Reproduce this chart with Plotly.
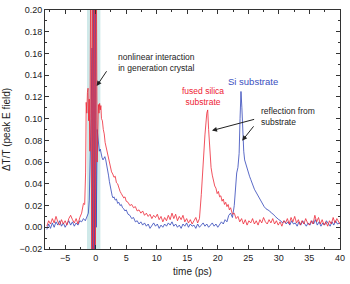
import plotly.graph_objects as go

# ---------------- data ----------------
t_red = [-8.0,-7.7,-7.4,-7.1,-6.8,-6.5,-6.2,-5.9,-5.6,-5.3,-5.0,-4.7,-4.4,-4.1,-3.8,-3.5,-3.2,-2.9,-2.6,-2.3,-2.0,
         -1.8,-1.65,-1.55,-1.45,-1.35,-1.25,-1.15,-1.05,-0.95,-0.8,-0.65,-0.5,-0.35,-0.2,-0.05,0.1,
         0.25,0.35,0.45,0.55,0.65,0.75,0.85,0.95,1.1,1.25,1.4,1.55,1.7,1.85,2.0,2.2,2.4,2.6,2.8,3.0,3.2,3.4,3.6,3.8,4.0,
         4.2,4.4,4.6,4.8,5.0,5.3,5.6,5.9,6.2,6.5,6.8,7.1,7.4,7.7,8.0,8.3,8.6,8.9,9.2,9.5,9.8,10.1,10.4,10.7,11.0,11.3,
         11.6,11.9,12.2,12.5,12.8,13.1,13.4,13.7,14.0,14.3,14.6,14.9,15.2,15.5,15.8,16.1,16.4,16.7,17.0,17.3,17.6,17.9,
         18.2,18.35,18.5,18.7,18.9,19.1,19.3,19.5,19.7,19.9,20.1,20.3,20.5,20.7,20.9,21.1,21.3,21.5,21.7,21.9,22.1,22.4,
         22.7,23.0,23.3,23.6,23.9,24.2,24.5,24.8,25.1,25.4,25.7,26.0,26.3,26.6,26.9,27.2,27.5,27.8,28.1,28.4,28.7,29.0,
         29.3,29.6,29.9,30.2,30.5,30.8,31.1,31.4,31.7,32.0,32.3,32.6,32.9,33.2,33.5,33.8,34.1,34.4,34.7,35.0,35.3,35.6,
         35.9,36.2,36.5,36.8,37.1,37.4,37.7,38.0,38.3,38.6,38.9,39.2,39.5,39.8,40.0]
v_red = [0.001,0.006,0.003,0.008,0.004,0.010,0.005,0.002,0.007,0.003,0.006,0.002,0.008,0.011,0.007,0.004,0.008,0.003,0.009,0.013,0.022,
         0.021,0.05,0.115,0.105,0.124,0.128,0.098,0.118,0.07,0.25,-0.03,0.25,-0.03,0.25,-0.03,0.25,
         0.06,0.10,0.113,0.105,0.114,0.108,0.112,0.100,0.098,0.09,0.086,0.078,0.074,0.07,0.066,0.061,0.057,0.051,0.049,0.046,0.047,0.041,0.040,0.035,0.033,
         0.031,0.029,0.027,0.028,0.024,0.023,0.020,0.021,0.018,0.019,0.015,0.016,0.013,0.015,0.011,0.013,0.010,0.012,0.008,0.011,0.009,0.012,0.007,0.010,0.005,0.009,
         0.006,0.011,0.007,0.013,0.008,0.012,0.006,0.010,0.007,0.011,0.005,0.008,0.004,0.007,0.003,0.006,0.009,0.004,0.008,0.03,0.06,0.085,
         0.105,0.108,0.09,0.065,0.055,0.048,0.042,0.038,0.036,0.031,0.033,0.028,0.029,0.024,0.026,0.021,0.023,0.019,0.021,0.016,0.018,0.012,
         0.013,0.008,0.010,0.005,0.008,0.003,0.007,0.002,0.006,0.004,0.008,0.003,0.006,0.002,0.007,0.004,0.009,0.005,0.003,0.007,0.004,0.008,
         0.003,0.006,0.002,0.005,0.001,0.006,0.004,0.008,0.003,0.009,0.005,0.010,0.004,0.007,0.002,0.006,0.003,0.008,0.004,0.002,0.006,0.003,
         0.011,0.005,0.009,0.003,0.007,0.002,0.005,0.001,0.006,0.003,0.009,0.004,0.008,0.005,0.003]

t_blue = [-8.0,-7.7,-7.4,-7.1,-6.8,-6.5,-6.2,-5.9,-5.6,-5.3,-5.0,-4.7,-4.4,-4.1,-3.8,-3.5,-3.2,-2.9,-2.6,-2.3,-2.0,-1.7,-1.4,
          -1.2,-1.05,-0.9,-0.75,-0.6,-0.5,-0.35,-0.2,-0.05,0.1,0.25,0.35,0.45,0.6,0.75,0.9,1.05,
          1.2,1.35,1.5,1.65,1.8,1.95,2.1,2.25,2.4,2.55,2.7,2.85,3.0,3.2,3.4,3.6,3.8,4.0,4.2,4.4,4.6,4.8,5.0,5.3,5.6,5.9,6.2,
          6.5,6.8,7.1,7.4,7.7,8.0,8.3,8.6,8.9,9.2,9.5,9.8,10.1,10.4,10.7,11.0,11.3,11.6,11.9,12.2,12.5,12.8,13.1,13.4,13.7,
          14.0,14.3,14.6,14.9,15.2,15.5,15.8,16.1,16.4,16.7,17.0,17.3,17.6,17.9,18.2,18.5,18.8,19.1,19.4,19.7,20.0,20.3,20.6,
          20.9,21.2,21.5,21.8,22.1,22.4,22.7,22.9,23.1,23.3,23.5,23.65,23.8,23.95,24.1,24.25,24.4,24.6,24.8,25.0,25.2,25.4,
          25.6,25.8,26.0,26.2,26.4,26.6,26.8,27.0,27.3,27.6,27.9,28.2,28.5,28.8,29.1,29.4,29.7,30.0,30.3,30.6,30.9,31.2,31.5,
          31.8,32.1,32.4,32.7,33.0,33.3,33.6,33.9,34.2,34.5,34.8,35.1,35.4,35.7,36.0,36.3,36.6,36.9,37.2,37.5,37.8,38.1,38.4,
          38.7,39.0,39.3,39.6,40.0]
v_blue = [-0.002,0.003,-0.001,0.004,0.0,0.005,0.002,0.006,0.001,0.004,0.0,0.003,0.006,0.002,0.005,0.001,0.004,0.002,0.006,0.005,0.008,0.006,0.011,
          0.013,0.025,0.06,0.1,0.165,-0.03,0.25,-0.03,0.25,0.0,0.09,0.082,0.075,0.07,0.072,0.066,0.064,
          0.062,0.064,0.065,0.062,0.058,0.052,0.048,0.042,0.037,0.031,0.029,0.027,0.028,0.025,0.026,0.022,0.023,0.020,0.021,0.018,0.017,0.015,0.016,0.012,0.011,0.008,0.009,
          0.005,0.006,0.003,0.005,0.002,0.004,0.001,0.003,-0.001,0.002,0.004,0.001,0.003,-0.001,0.002,0.0,0.003,0.001,0.004,0.002,0.005,0.001,0.003,0.0,0.002,
          -0.001,0.003,0.001,0.004,0.0,0.003,0.001,0.002,-0.001,0.003,0.0,0.002,0.004,0.001,0.003,0.0,0.002,0.004,0.001,0.003,0.0,0.002,0.005,
          0.003,0.007,0.005,0.011,0.013,0.009,0.02,0.04,0.05,0.055,0.068,0.10,0.125,0.11,0.085,0.07,0.062,0.058,0.053,0.05,0.047,0.044,
          0.040,0.038,0.035,0.033,0.031,0.029,0.026,0.024,0.022,0.019,0.017,0.016,0.015,0.013,0.012,0.010,0.008,0.007,0.006,0.004,0.006,0.003,0.005,
          0.002,0.006,0.003,0.004,0.001,0.005,0.002,0.006,0.003,0.001,0.004,0.002,0.006,0.003,0.007,0.002,0.005,0.001,0.004,0.002,0.006,0.003,0.001,
          0.005,0.002,0.006,0.003,0.004]

band_range = [-1.42, 0.77]
x_range = [-8.3, 40.02]
y_range = [-0.02, 0.20]

FONT = "Liberation Sans, Arial, sans-serif"

fig = go.Figure()
fig.add_trace(go.Scatter(x=t_blue, y=v_blue, mode="lines", name="Si",
                         line=dict(color="rgba(50,70,185,0.8)", width=1)))
fig.add_trace(go.Scatter(x=t_red, y=v_red, mode="lines", name="fused silica",
                         line=dict(color="rgba(238,40,55,0.8)", width=1)))

fig.add_shape(type="rect", xref="x", yref="y", x0=band_range[0], x1=band_range[1],
              y0=y_range[0], y1=y_range[1], fillcolor="rgba(195,228,228,0.8)",
              line=dict(width=0), layer="below")

arrow = dict(showarrow=True, arrowhead=2, arrowsize=1, arrowwidth=1, arrowcolor="#222",
             axref="x", ayref="y", text="")
fig.add_annotation(x=0.16, y=0.130, ax=1.95, ay=0.145, **arrow)
fig.add_annotation(x=19.05, y=0.089, ax=26.2, ay=0.0997, **arrow)
fig.add_annotation(x=24.0, y=0.0797, ax=26.06, ay=0.0943, **arrow)

fig.add_annotation(x=9.9, y=0.152, text="nonlinear interaction<br>in generation crystal",
                   showarrow=False, font=dict(size=8.5, color="#222", family=FONT))
fig.add_annotation(x=17.6, y=0.120, text="fused silica<br>substrate",
                   showarrow=False, font=dict(size=8.5, color="#ee2233", family=FONT))
fig.add_annotation(x=25.7, y=0.134, text="Si substrate",
                   showarrow=False, font=dict(size=9.5, color="#3a4fc0", family=FONT))
fig.add_annotation(x=26.7, y=0.102, text="reflection from<br>substrate", xanchor="left",
                   showarrow=False, align="left", font=dict(size=8.5, color="#222", family=FONT))

axis_common = dict(showline=True, linecolor="#333", linewidth=1, mirror="ticks",
                   ticks="inside", ticklen=4, tickcolor="#333", showgrid=False, zeroline=False,
                   tickfont=dict(size=9, color="#222", family=FONT))
fig.update_xaxes(range=x_range, dtick=5, tick0=0,
                 minor=dict(ticks="inside", ticklen=2, dtick=2.5, tickcolor="#333"),
                 title=dict(text="time (ps)", font=dict(size=10, color="#222", family=FONT), standoff=6),
                 **axis_common)
fig.update_yaxes(range=y_range, dtick=0.02, tick0=0, tickformat=".2f",
                 minor=dict(ticks="inside", ticklen=2, dtick=0.01, tickcolor="#333"),
                 title=dict(text="ΔT/T (peak E field)", font=dict(size=10, color="#222", family=FONT), standoff=6),
                 **axis_common)

fig.update_layout(width=350, height=284, margin=dict(l=45, r=8, t=5, b=35),
                  paper_bgcolor="white", plot_bgcolor="white", showlegend=False,
                  font=dict(family=FONT))

fig.write_html("out.html", config={"displayModeBar": False},
               post_script="document.body.style.margin='0';document.body.style.overflow='hidden';")
